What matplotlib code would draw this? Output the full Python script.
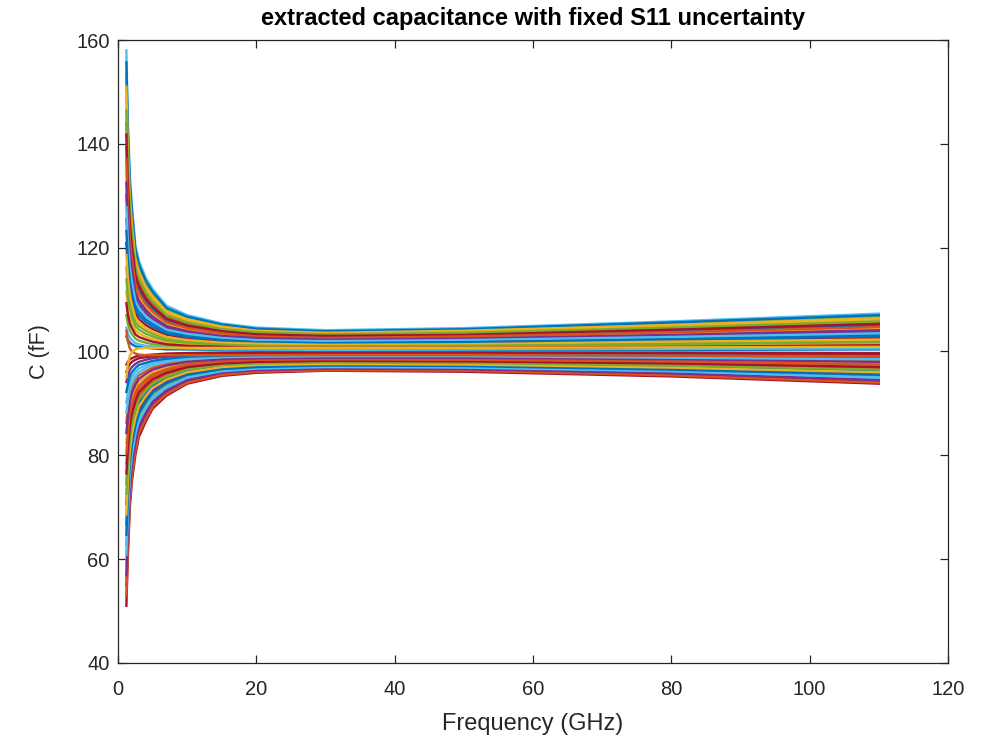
import matplotlib.pyplot as plt

plt.rcParams['font.family'] = ['Liberation Sans', 'DejaVu Sans']

# frequency points (GHz)
freq = [1.2, 1.4, 1.7, 2, 2.5, 3, 4, 5, 7, 10, 15, 20, 30, 50, 80, 110]

# extracted capacitance curves (fF), upper half of the spread
u100 = [158.0, 145.0, 134.0, 128.0, 120.5, 117.5, 114.2, 112.0, 108.8, 107.0, 105.4, 104.6, 104.1, 104.5, 105.8, 107.3]
u96 = [155.7, 143.2, 132.6, 126.9, 119.7, 116.8, 113.6, 111.5, 108.4, 106.7, 105.2, 104.4, 103.9, 104.3, 105.6, 107.0]
u92 = [153.4, 141.4, 131.3, 125.8, 118.9, 116.1, 113.1, 111.0, 108.1, 106.4, 105.0, 104.2, 103.8, 104.1, 105.3, 106.7]
u88 = [151.0, 139.6, 129.9, 124.6, 118.0, 115.4, 112.5, 110.6, 107.7, 106.2, 104.8, 104.0, 103.6, 104.0, 105.1, 106.4]
u84 = [148.7, 137.8, 128.6, 123.5, 117.2, 114.7, 111.9, 110.1, 107.4, 105.9, 104.5, 103.9, 103.4, 103.8, 104.9, 106.1]
u80 = [146.4, 136.0, 127.2, 122.4, 116.4, 114.0, 111.4, 109.6, 107.0, 105.6, 104.3, 103.7, 103.3, 103.6, 104.6, 105.8]
u76 = [144.1, 134.2, 125.8, 121.3, 115.6, 113.3, 110.8, 109.1, 106.7, 105.3, 104.1, 103.5, 103.1, 103.4, 104.4, 105.5]
u72 = [141.8, 132.4, 124.5, 120.2, 114.8, 112.6, 110.2, 108.6, 106.3, 105.0, 103.9, 103.3, 103.0, 103.2, 104.2, 105.3]
u68 = [139.4, 130.6, 123.1, 119.0, 113.9, 111.9, 109.7, 108.2, 106.0, 104.8, 103.7, 103.1, 102.8, 103.1, 103.9, 105.0]
u64 = [137.1, 128.8, 121.8, 117.9, 113.1, 111.2, 109.1, 107.7, 105.6, 104.5, 103.5, 102.9, 102.6, 102.9, 103.7, 104.7]
u60 = [134.8, 127.0, 120.4, 116.8, 112.3, 110.5, 108.5, 107.2, 105.3, 104.2, 103.2, 102.8, 102.5, 102.7, 103.5, 104.4]
u56 = [132.5, 125.2, 119.0, 115.7, 111.5, 109.8, 108.0, 106.7, 104.9, 103.9, 103.0, 102.6, 102.3, 102.5, 103.2, 104.1]
u52 = [130.2, 123.4, 117.7, 114.6, 110.7, 109.1, 107.4, 106.2, 104.6, 103.6, 102.8, 102.4, 102.1, 102.3, 103.0, 103.8]
u48 = [127.8, 121.6, 116.3, 113.4, 109.8, 108.4, 106.8, 105.8, 104.2, 103.4, 102.6, 102.2, 102.0, 102.2, 102.8, 103.5]
u44 = [125.5, 119.8, 115.0, 112.3, 109.0, 107.7, 106.2, 105.3, 103.9, 103.1, 102.4, 102.0, 101.8, 102.0, 102.6, 103.2]
u40 = [123.2, 118.0, 113.6, 111.2, 108.2, 107.0, 105.7, 104.8, 103.5, 102.8, 102.2, 101.8, 101.6, 101.8, 102.3, 102.9]
u36 = [120.9, 116.2, 112.2, 110.1, 107.4, 106.3, 105.1, 104.3, 103.2, 102.5, 101.9, 101.7, 101.5, 101.6, 102.1, 102.6]
u32 = [118.6, 114.4, 110.9, 109.0, 106.6, 105.6, 104.5, 103.8, 102.8, 102.2, 101.7, 101.5, 101.3, 101.4, 101.9, 102.3]
u28 = [116.2, 112.6, 109.5, 107.8, 105.7, 104.9, 104.0, 103.4, 102.5, 102.0, 101.5, 101.3, 101.1, 101.3, 101.6, 102.0]
u24 = [113.9, 110.8, 108.2, 106.7, 104.9, 104.2, 103.4, 102.9, 102.1, 101.7, 101.3, 101.1, 101.0, 101.1, 101.4, 101.8]
u20 = [111.6, 109.0, 106.8, 105.6, 104.1, 103.5, 102.8, 102.4, 101.8, 101.4, 101.1, 100.9, 100.8, 100.9, 101.2, 101.5]
u16 = [109.3, 107.2, 105.4, 104.5, 103.3, 102.8, 102.3, 101.9, 101.4, 101.1, 100.9, 100.7, 100.7, 100.7, 100.9, 101.2]
u12 = [107.0, 105.4, 104.1, 103.4, 102.5, 102.1, 101.7, 101.4, 101.1, 100.8, 100.6, 100.6, 100.5, 100.5, 100.7, 100.9]
u08 = [104.6, 103.6, 102.7, 102.2, 101.6, 101.4, 101.1, 101.0, 100.7, 100.6, 100.4, 100.4, 100.3, 100.4, 100.5, 100.6]
u05 = [102.9, 102.3, 101.7, 101.4, 101.0, 100.9, 100.7, 100.6, 100.4, 100.4, 100.3, 100.2, 100.2, 100.2, 100.3, 100.4]

# lower half of the spread
l100 = [51.0, 60.0, 70.0, 75.0, 80.0, 83.5, 86.5, 89.0, 91.5, 93.8, 95.3, 95.9, 96.3, 96.1, 95.2, 93.8]
l96 = [53.0, 61.6, 71.2, 76.0, 80.8, 84.2, 87.0, 89.4, 91.8, 94.0, 95.5, 96.1, 96.4, 96.3, 95.4, 94.0]
l92 = [54.9, 63.2, 72.4, 77.0, 81.6, 84.8, 87.6, 89.9, 92.2, 94.3, 95.7, 96.2, 96.6, 96.4, 95.6, 94.3]
l88 = [56.9, 64.8, 73.6, 78.0, 82.4, 85.5, 88.1, 90.3, 92.5, 94.5, 95.9, 96.4, 96.7, 96.6, 95.8, 94.5]
l84 = [58.8, 66.4, 74.8, 79.0, 83.2, 86.1, 88.7, 90.8, 92.9, 94.8, 96.1, 96.6, 96.9, 96.7, 96.0, 94.8]
l80 = [60.8, 68.0, 76.0, 80.0, 84.0, 86.8, 89.2, 91.2, 93.2, 95.0, 96.2, 96.7, 97.0, 96.9, 96.2, 95.0]
l76 = [62.8, 69.6, 77.2, 81.0, 84.8, 87.5, 89.7, 91.6, 93.5, 95.3, 96.4, 96.9, 97.2, 97.0, 96.4, 95.3]
l72 = [64.7, 71.2, 78.4, 82.0, 85.6, 88.1, 90.3, 92.1, 93.9, 95.5, 96.6, 97.0, 97.3, 97.2, 96.5, 95.5]
l68 = [66.7, 72.8, 79.6, 83.0, 86.4, 88.8, 90.8, 92.5, 94.2, 95.8, 96.8, 97.2, 97.5, 97.3, 96.7, 95.8]
l64 = [68.6, 74.4, 80.8, 84.0, 87.2, 89.4, 91.4, 93.0, 94.6, 96.0, 97.0, 97.4, 97.6, 97.5, 96.9, 96.0]
l60 = [70.6, 76.0, 82.0, 85.0, 88.0, 90.1, 91.9, 93.4, 94.9, 96.3, 97.2, 97.5, 97.8, 97.7, 97.1, 96.3]
l56 = [72.6, 77.6, 83.2, 86.0, 88.8, 90.8, 92.4, 93.8, 95.2, 96.5, 97.4, 97.7, 97.9, 97.8, 97.3, 96.5]
l52 = [74.5, 79.2, 84.4, 87.0, 89.6, 91.4, 93.0, 94.3, 95.6, 96.8, 97.6, 97.9, 98.1, 98.0, 97.5, 96.8]
l48 = [76.5, 80.8, 85.6, 88.0, 90.4, 92.1, 93.5, 94.7, 95.9, 97.0, 97.7, 98.0, 98.2, 98.1, 97.7, 97.0]
l44 = [78.4, 82.4, 86.8, 89.0, 91.2, 92.7, 94.1, 95.2, 96.3, 97.3, 97.9, 98.2, 98.4, 98.3, 97.9, 97.3]
l40 = [80.4, 84.0, 88.0, 90.0, 92.0, 93.4, 94.6, 95.6, 96.6, 97.5, 98.1, 98.4, 98.5, 98.4, 98.1, 97.5]
l36 = [82.4, 85.6, 89.2, 91.0, 92.8, 94.1, 95.1, 96.0, 96.9, 97.8, 98.3, 98.5, 98.7, 98.6, 98.3, 97.8]
l32 = [84.3, 87.2, 90.4, 92.0, 93.6, 94.7, 95.7, 96.5, 97.3, 98.0, 98.5, 98.7, 98.8, 98.8, 98.5, 98.0]
l28 = [86.3, 88.8, 91.6, 93.0, 94.4, 95.4, 96.2, 96.9, 97.6, 98.3, 98.7, 98.9, 99.0, 98.9, 98.7, 98.3]
l24 = [88.2, 90.4, 92.8, 94.0, 95.2, 96.0, 96.8, 97.4, 98.0, 98.5, 98.9, 99.0, 99.1, 99.1, 98.8, 98.5]
l20 = [90.2, 92.0, 94.0, 95.0, 96.0, 96.7, 97.3, 97.8, 98.3, 98.8, 99.1, 99.2, 99.3, 99.2, 99.0, 98.8]
l16 = [92.2, 93.6, 95.2, 96.0, 96.8, 97.4, 97.8, 98.2, 98.6, 99.0, 99.2, 99.3, 99.4, 99.4, 99.2, 99.0]
l12 = [94.1, 95.2, 96.4, 97.0, 97.6, 98.0, 98.4, 98.7, 99.0, 99.3, 99.4, 99.5, 99.6, 99.5, 99.4, 99.3]
l08 = [96.1, 96.8, 97.6, 98.0, 98.4, 98.7, 98.9, 99.1, 99.3, 99.5, 99.6, 99.7, 99.7, 99.7, 99.6, 99.5]
l05 = [97.5, 98.0, 98.5, 98.7, 99.0, 99.2, 99.3, 99.4, 99.6, 99.7, 99.8, 99.8, 99.8, 99.8, 99.8, 99.7]

# two curves that cross the nominal value at low frequency
cross_a = [104.0, 102.0, 100.6, 100.0, 99.6, 99.4, 99.3, 99.3, 99.3, 99.3, 99.3, 99.3, 99.3, 99.3, 99.2, 99.1]
cross_b = [95.0, 97.5, 99.2, 99.9, 100.4, 100.6, 100.7, 100.7, 100.7, 100.7, 100.7, 100.7, 100.7, 100.7, 100.8, 100.9]

# drawing order (colour cycle follows it, like MATLAB's hold on)
curves = [u05, l52, u60, l12, u28, u100, l100,
          u44, l28, u84, l68, u12, l84, l05,
          u68, l44, u20, l92, u92, l20, u36,
          l60, u76, l36, u52, l76, u08, l08,
          u96, l96, u88, l88, u80, l80, u72,
          l72, u64, l64, u56, l56, u48, l48,
          u40, l40, u32, l32, u24, l24, u16,
          l16, cross_a, cross_b]

matlab_colors = ['#0072BD', '#D95319', '#EDB120', '#7E2F8E',
                 '#77AC30', '#4DBEEE', '#A2142F']

fig = plt.figure(figsize=(9.84, 7.41), dpi=100)
ax = fig.add_axes([0.12, 0.1053, 0.8434, 0.8407])

for i, c in enumerate(curves):
    ax.plot(freq, c, color=matlab_colors[i % 7], lw=1.7)

ax.set_xlim(0, 120)
ax.set_ylim(40, 160)
ax.set_xticks(range(0, 121, 20))
ax.set_yticks(range(40, 161, 20))

gray = '#262626'
for s in ax.spines.values():
    s.set_color(gray)
    s.set_linewidth(0.9)
ax.tick_params(direction='in', top=True, right=True, length=6, width=0.9,
               colors=gray, labelsize=14.5)
ax.tick_params(axis='x', pad=12)
ax.tick_params(axis='y', pad=6)

ax.set_title('extracted capacitance with fixed S11 uncertainty',
             fontsize=17, fontweight='bold', color='black', pad=11)
ax.set_xlabel('Frequency (GHz)', fontsize=17, color=gray, labelpad=10)
ax.set_ylabel('C (fF)', fontsize=15.5, color=gray, labelpad=19)

fig.savefig('out.png', dpi=100)
